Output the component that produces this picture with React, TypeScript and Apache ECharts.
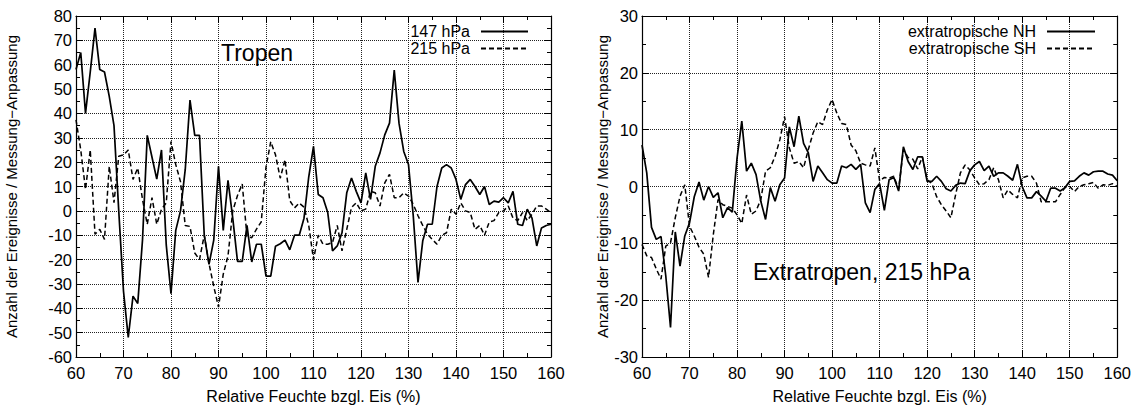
import React, { useEffect, useRef } from "react";
import * as echarts from "echarts";

// Relative humidity w.r.t. ice (%)
const HUMIDITY = [
  60, 61, 62, 63, 64, 65, 66, 67, 68, 69,
  70, 71, 72, 73, 74, 75, 76, 77, 78, 79,
  80, 81, 82, 83, 84, 85, 86, 87, 88, 89,
  90, 91, 92, 93, 94, 95, 96, 97, 98, 99,
  100, 101, 102, 103, 104, 105, 106, 107, 108, 109,
  110, 111, 112, 113, 114, 115, 116, 117, 118, 119,
  120, 121, 122, 123, 124, 125, 126, 127, 128, 129,
  130, 131, 132, 133, 134, 135, 136, 137, 138, 139,
  140, 141, 142, 143, 144, 145, 146, 147, 148, 149,
  150, 151, 152, 153, 154, 155, 156, 157, 158, 159, 160,
];

// Tropen, 147 hPa
const TROPEN_147 = [
  58, 65, 40, 57, 75, 58, 57, 47, 35, 0,
  -33, -52, -35, -38, -12, 31, 22, 13, 25, -14,
  -34, -8, 0, 17, 45.5, 31, 31, -10, -22, -12,
  18.3, -8, 12.5, -3, -20.7, -20.7, -6, -21, -13.7, -13.7,
  -26.8, -26.8, -14.5, -13.5, -12, -16, -10, -10, -3, 14,
  26.5, 6.7, 5.4, -0.7, -16.4, -14.4, -9, 7.4, 13.5, 8,
  3.3, 15.6, 4.7, 18.3, 23.8, 31.2, 36, 57.8, 36, 24.4,
  19, -2, -29.4, -12.3, -5.5, -5.5, 10, 17.6, 19, 17.6,
  12.9, 4.7, 10.8, 12.9, 10, 6.7, 10, 2.6, 4, 3.6,
  5.4, 3.3, 8, -5.5, -6, 0.7, -3, -14.4, -7, -6, -5.5,
];

// Tropen, 215 hPa
const TROPEN_215 = [
  37.4, 25, 8.8, 25, -9.6, -7.6, -11.7, 18.3, 3.4, 22.4,
  23, 25, 12.9, 17.6, 4.7, -5.5, 5.4, -5.5, 0.7, 3.3,
  28.5, 19, 12, -6, -6.4, -17.3, -20, -10, -21.6, -31,
  -39.5, -26, -18.5, 0, 6.3, 11, -10.5, -11, -7.5, -4.5,
  18, 28.4, 23, 13.4, 21, 4.2, 1.2, 3.2, 1.5, -6,
  -20, -10, -13.7, -13.7, -13, -6, -16.4, -7.6, 1.4, 3.3,
  0, 0.7, 8, 7.4, 2, 11.5, 15, 5.4, 5.4, 7.4,
  6, 2.7, -2, -6, -9.6, -11.7, -13.7, -10, -9, 0.7,
  -1.4, 3.3, 0, -0.7, -7.6, -6, -10, -4.6, -4, -0.7,
  0, 2, -3, -4, -0.7, -4, -1.4, 2, 2, 0.7, -0.7,
];

// Extratropen 215 hPa, NH
const EXTRA_NH = [
  7.3, 2.4, -7.2, -9.3, -8.8, -15.7, -24.8, -8, -14, -8.7,
  -6.4, -1.8, 0.8, -2.4, 0, -1.9, -1.1, -5.5, -3.7, -4.5,
  5, 11.5, 2.7, 4.1, 2.1, -2.6, -5.8, -0.2, -2.6, 0.3,
  1.5, 10.5, 7, 12.4, 7.6, 5.9, 0.9, 3.6, 2.4, 1.2,
  0.6, 0.6, 3.6, 3.3, 3.9, 3, 3.9, -2.9, -4.6, -0.5,
  0.5, -4.2, 1.2, 1.6, -0.8, 7, 4.4, 3, 5.2, 5.2,
  0.9, 0.9, 1.8, 0.9, -0.4, -0.8, 0.2, 0.6, 0.5, 2.8,
  3.8, 4.4, 2.8, 3.6, 1.8, 2.4, 2.4, 1.8, 1.1, 3.9,
  0, -2, -2, -0.9, -1.7, -2.6, -0.3, -0.3, -0.8, -0.2,
  0.9, 1, 1.8, 2.4, 2, 2.6, 2.7, 2.7, 2.2, 2, 1,
];

// Extratropen 215 hPa, SH
const EXTRA_SH = [
  -10.2, -12.2, -12.5, -14.5, -16.3, -10.5, -9.9, -5.5, -1.7, 0.3,
  -7, -8.7, -10.7, -11.9, -16, -8.5, -2.3, -3.2, -3.5, -3.8,
  -5, -6.5, -1.5, -4.9, -4.3, -2.3, 2.7, 3.3, 5.3, 8.2,
  12.3, 6.8, 4.1, 4.4, 3.3, 6.5, 9.4, 11.4, 10.9, 13.5,
  15.3, 12.9, 11.1, 10.9, 7.3, 6.3, 4.1, 3.8, 3.6, 6.8,
  1, 1.6, 1.5, 1.8, -0.5, 6.5, 5.1, 4.8, 3.1, 5.2,
  1.2, 0.5, -1.8, -3.2, -4.3, -5.5, -1.4, 2.4, 3.8, 2.9,
  1.5, 0.3, 0.5, 1.2, 3.3, 1.2, -2, -0.6, -1.4, -2,
  1.5, 1.8, 1.8, 0.6, -2.7, -2.7, -2.7, -2.7, -1.4, -0.2,
  0, -0.9, 0, 0.3, 0.5, 0.7, -0.3, 0.3, 0.2, 0.5, 0,
];

const X_TITLE = "Relative Feuchte bzgl. Eis (%)";
const Y_TITLE = "Anzahl der Ereignisse / Messung\u2212Anpassung";
const FONT = "Liberation Sans, Arial, Helvetica, sans-serif";

const pairs = (ys: number[]) => HUMIDITY.map((x, i) => [x, ys[i]]);

const makeGridLine = () => ({ show: true, lineStyle: { color: "#222", type: "dotted", width: 1 } });
const tick = () => ({ show: true, inside: true, length: 7, lineStyle: { color: "#000", width: 1 } });
const minor = () => ({ show: true, splitNumber: 2, length: 4, lineStyle: { color: "#000", width: 1 } });

function xAxes(gridIndex: number) {
  return [
    {
      type: "value",
      gridIndex,
      min: 60,
      max: 160,
      interval: 10,
      position: "bottom",
      axisLine: { show: true, onZero: false, lineStyle: { color: "#000", width: 1.2 } },
      axisTick: tick(),
      minorTick: minor(),
      name: X_TITLE,
      nameLocation: "middle",
      nameGap: 31,
      nameTextStyle: { fontFamily: FONT, fontSize: 16, color: "#000" },
      axisLabel: { fontFamily: FONT, fontSize: 16.5, color: "#000", margin: 7 },
      splitLine: makeGridLine(),
    },
    {
      type: "value",
      gridIndex,
      min: 60,
      max: 160,
      interval: 10,
      position: "top",
      axisLine: { show: true, onZero: false, lineStyle: { color: "#000", width: 1.2 } },
      axisTick: tick(),
      minorTick: minor(),
      axisLabel: { show: false },
      splitLine: { show: false },
    },
  ];
}

function yAxes(gridIndex: number, min: number, max: number, nameGap: number) {
  return [
    {
      type: "value",
      gridIndex,
      min,
      max,
      interval: 10,
      position: "left",
      axisLine: { show: true, onZero: false, lineStyle: { color: "#000", width: 1.2 } },
      axisTick: tick(),
      minorTick: minor(),
      name: Y_TITLE,
      nameLocation: "middle",
      nameRotate: 90,
      nameGap,
      nameTextStyle: { fontFamily: FONT, fontSize: 15, color: "#000" },
      axisLabel: { fontFamily: FONT, fontSize: 16.5, color: "#000", margin: 4 },
      splitLine: makeGridLine(),
    },
    {
      type: "value",
      gridIndex,
      min,
      max,
      interval: 10,
      position: "right",
      axisLine: { show: true, onZero: false, lineStyle: { color: "#000", width: 1.2 } },
      axisTick: tick(),
      minorTick: minor(),
      axisLabel: { show: false },
      splitLine: { show: false },
    },
  ];
}

export default function App() {
  const ref = useRef<HTMLDivElement>(null);

  useEffect(() => {
    if (!ref.current) return;
    const chart = echarts.init(ref.current, null, { renderer: "svg" });
    const solid = { color: "#000", width: 1.7, type: "solid" };
    const dashed = { color: "#000", width: 1.5, type: [5, 3] };
    const legendText = () => ({ fontFamily: FONT, fontSize: 16, color: "#000", lineHeight: 17, padding: [0, 6, 0, 0] });

    chart.setOption({
      animation: false,
      backgroundColor: "#fff",
      grid: [
        { left: 76, top: 16, width: 475, height: 342 },
        { left: 642, top: 16, width: 478, height: 342 },
      ],
      xAxis: [...xAxes(0), ...xAxes(1)],
      yAxis: [...yAxes(0, -60, 80, 57), ...yAxes(1, -30, 30, 23)],
      legend: [
        {
          data: ["147 hPa", "215 hPa"],
          orient: "vertical",
          align: "right",
          right: 1134 - 534,
          top: 18,
          itemWidth: 47,
          itemHeight: 10,
          itemGap: 0,
          itemStyle: { opacity: 0 },
          textStyle: legendText(),
        },
        {
          data: ["extratropische NH", "extratropische SH"],
          orient: "vertical",
          align: "right",
          right: 1134 - 1101,
          top: 18,
          itemWidth: 48,
          itemHeight: 10,
          itemGap: 0,
          itemStyle: { opacity: 0 },
          textStyle: legendText(),
        },
      ],
      graphic: [
        {
          type: "text",
          x: 221,
          y: 53,
          style: { text: "Tropen", fontFamily: FONT, fontSize: 23, fill: "#000", verticalAlign: "middle" },
        },
        {
          type: "text",
          x: 753,
          y: 272,
          style: { text: "Extratropen, 215 hPa", fontFamily: FONT, fontSize: 23, fill: "#000", verticalAlign: "middle" },
        },
      ],
      series: [
        { name: "147 hPa", type: "line", xAxisIndex: 0, yAxisIndex: 0, data: pairs(TROPEN_147), showSymbol: false, symbol: "none", lineStyle: solid, itemStyle: { color: "#000" } },
        { name: "215 hPa", type: "line", xAxisIndex: 0, yAxisIndex: 0, data: pairs(TROPEN_215), showSymbol: false, symbol: "none", lineStyle: dashed, itemStyle: { color: "#000" } },
        { name: "extratropische NH", type: "line", xAxisIndex: 2, yAxisIndex: 2, data: pairs(EXTRA_NH), showSymbol: false, symbol: "none", lineStyle: solid, itemStyle: { color: "#000" } },
        { name: "extratropische SH", type: "line", xAxisIndex: 2, yAxisIndex: 2, data: pairs(EXTRA_SH), showSymbol: false, symbol: "none", lineStyle: dashed, itemStyle: { color: "#000" } },
      ],
    });
    return () => chart.dispose();
  }, []);

  return <div ref={ref} style={{ position: "fixed", left: 0, top: 0, width: 1134, height: 409, background: "#fff" }} />;
}
